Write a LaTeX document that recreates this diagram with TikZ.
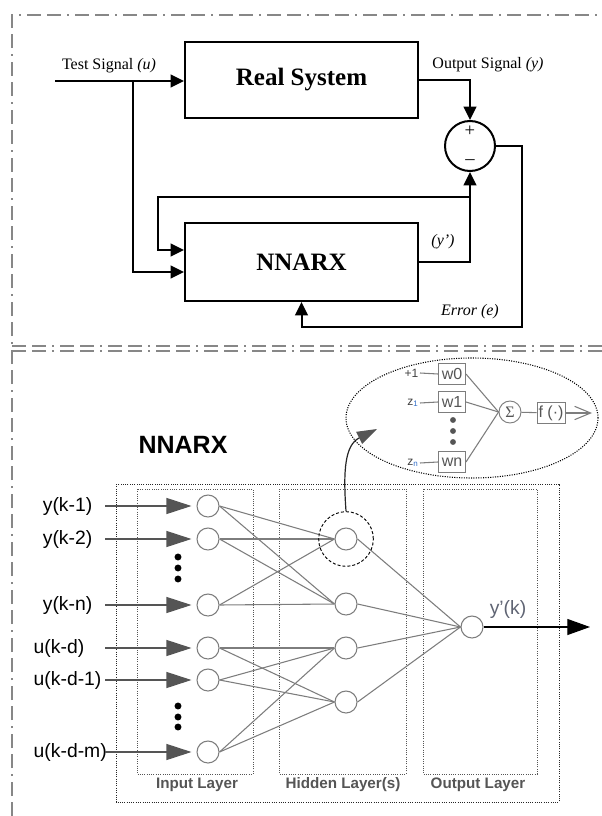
\documentclass[tikz,border=0pt]{standalone}
\usepackage{fontspec}
\setmainfont{Liberation Serif}
\newfontfamily\netfont{Liberation Sans}
\usetikzlibrary{arrows.meta,calc}
\definecolor{framegray}{RGB}{135,135,135}
\definecolor{edgegray}{RGB}{125,125,125}
\definecolor{labgray}{RGB}{85,85,85}
\definecolor{ykgray}{RGB}{95,100,115}
\definecolor{subblue}{RGB}{50,110,200}
\tikzset{
  frameline/.style={draw=framegray,line width=1.1pt,
    dash pattern=on 10.5pt off 4.5pt on 10.5pt off 4.5pt on 1.5pt off 4.5pt},
  sysbox/.style={draw,line width=1.5pt,minimum width=174.75pt,minimum height=57pt,
    font=\fontsize{18.75}{22}\selectfont\bfseries},
  sig/.style={line width=1.5pt,-{Triangle[length=10pt,width=9.5pt]}},
  sumnode/.style={circle,draw,line width=1.5pt,minimum size=37.5pt,inner sep=0pt},
  toplab/.style={font=\fontsize{12}{14}\selectfont},
  neuron/.style={circle,draw=edgegray,fill=white,line width=0.8pt,minimum size=16.5pt,inner sep=0pt},
  wire/.style={draw=edgegray,line width=0.8pt},
  inarr/.style={draw=labgray,line width=0.8pt,-{Triangle[length=18.75pt,width=12pt,color=labgray]},shorten >=3.75pt},
  inlab/.style={font=\netfont\fontsize{14.5}{16}\selectfont},
  laybox/.style={draw=labgray,densely dotted,line width=0.7pt},
  laylab/.style={font=\netfont\bfseries\fontsize{11.4}{13}\selectfont,text=labgray},
  wbox/.style={draw=edgegray,line width=0.7pt,minimum width=20.25pt,minimum height=15.75pt,inner sep=1pt,
    text=labgray,font=\netfont\fontsize{12}{13}\selectfont},
  zlab/.style={font=\netfont\fontsize{9}{10}\selectfont,text=black!75,inner sep=1pt}
}
\begin{document}
\begin{tikzpicture}[x=0.75pt,y=-0.75pt]
  \useasboundingbox (0,0) rectangle (602,816);
  % frame
  \draw[frameline] (12,816) -- (12,15) -- (602,15);
  \draw[frameline] (12,346) -- (602,346);
  \draw[frameline] (12,351) -- (602,351);

  % system identification loop
  \node[sysbox] (rs) at (301.5,80) {Real System};
  \node[sysbox,minimum height=58.5pt] (nn) at (301.5,262) {NNARX};
  \node[sumnode] (cmp) at (470,146) {};
  \node[font=\fontsize{14}{14}\selectfont] (pl) at (470,131) {+};
  \node[font=\fontsize{14}{14}\selectfont] (mi) at (470,162) {–};

  \coordinate (tin) at (55,81);
  \coordinate (tbr) at (133,81);
  \coordinate (fb) at (470,197);
  \coordinate (fbl) at (158,197);
  \coordinate (er) at (522,327);

  \draw[sig] (tin) -- (tin -| rs.west);
  \draw[sig] (tbr) |- ([yshift=-7.5pt]nn.west);
  \draw[sig] (fb) -- (fbl) |- ([yshift=9pt]nn.west);
  \draw[sig] (rs.east) -| (cmp.north);
  \draw[sig] (nn.east) -| (cmp.south);
  \draw[sig] (cmp.east) -| (er) -| (nn.south);

  \node[toplab] (tsl) at (109,66) {Test Signal \textit{(u)}};
  \node[toplab] (osl) at (488,65) {Output Signal \textit{(y)}};
  \node[toplab] (ypl) at (443,242) {\textit{(y’)}};
  \node[toplab] (erl) at (470,312) {\textit{Error (e)}};

  % network
  \node[font=\netfont\bfseries\fontsize{18.75}{22}\selectfont] (ttl) at (183,445) {NNARX};
  \draw[laybox,draw=black!85] (116,484) rectangle (559,802);
  \draw[laybox] (137,489) rectangle (253,774);
  \draw[laybox] (279,489) rectangle (406,774);
  \draw[laybox] (423,489) rectangle (537,774);
  \node[laylab] (inl) at (197,785) {Input Layer};
  \node[laylab] (hdl) at (343,785) {Hidden Layer(s)};
  \node[laylab] (oul) at (478,785) {Output Layer};

  \foreach \n/\y/\lab in {1/506/y(k-1),2/539/y(k-2),3/605/y(k-n)}{
    \node[neuron] (i\n) at (208,\y) {};
    \node[inlab,anchor=east] (l\n) at (97,\y) {\lab};
    \coordinate (s\n) at (105,\y);
    \draw[inarr] (s\n) -- (i\n);
  }
  \foreach \n/\y/\lab in {4/648/u(k-d),5/680/u(k-d-1),6/752/u(k-d-m)}{
    \node[neuron] (i\n) at (208,\y) {};
    \node[inlab,anchor=west] (l\n) at (29,\y) {\lab};
    \coordinate (s\n) at (105,\y);
    \draw[inarr] (s\n) -- (i\n);
  }
  \foreach \y in {557,568,579,706,717,727}
    \fill (178,\y) circle (2.6pt);

  \foreach \n/\y in {1/539,2/604,3/648,4/702}
    \node[neuron] (h\n) at (346,\y) {};
  \node[neuron] (o) at (472,627) {};

  \foreach \a/\b in {1/1,1/2,2/1,2/2,3/1,3/2,4/3,4/4,5/3,5/4,6/3,6/4}
    \draw[wire] (i\a.east) -- (h\b.west);
  \foreach \b in {1,...,4}
    \draw[wire] (h\b.east) -- (o.west);

  \coordinate (yo) at (590,627);
  \draw[line width=0.8pt,-{Triangle[length=17pt,width=12pt]}] (o) -- (yo);
  \node[inlab,text=ykgray] (ylab) at (508,609) {y’(k)};

  % zoom on one hidden neuron
  \node[circle,draw,dash pattern=on 2.25pt off 1.5pt,line width=0.7pt,minimum size=41pt] (hc) at (h1) {};
  \coordinate (tip) at (377,429);
  \draw[line width=0.9pt,draw=black!85,-{Triangle[length=15pt,width=10pt,color=labgray]}]
    (hc.north) .. controls (343,470) and (345,445) .. (tip);
  \draw[densely dotted,line width=0.8pt] (472,418) ellipse [x radius=94.5pt,y radius=45pt];

  \node[wbox] (w0) at (452,374) {w0};
  \node[wbox] (w1) at (452,402) {w1};
  \node[wbox] (wn) at (452,462) {wn};
  \node[zlab,anchor=east] (z0) at (420,373) {+1};
  \node[zlab,anchor=east] (z1) at (420,403) {z\textsubscript{\color{subblue}1}};
  \node[zlab,anchor=east] (zn) at (420,463) {z\textsubscript{\color{subblue}n}};
  \foreach \w in {0,1,n}
    \draw[wire] (z\w.east) -- (w\w.west);
  \foreach \y in {420,431,442}
    \fill[labgray] (453,\y) circle (2.2pt);

  \node[circle,draw=edgegray,line width=0.7pt,minimum size=16.5pt,inner sep=0pt,text=labgray,
    font=\fontsize{12}{13}\selectfont] (sg) at (510,412) {Σ};
  \foreach \w in {0,1,n}
    \draw[wire] (w\w.east) -- (sg.west);
  \node[wbox,minimum width=21pt] (fx) at (551,413) {f (·)};
  \draw[wire] (sg) -- (fx);
  \coordinate (fo) at (592,413);
  \draw[wire,-{Straight Barb[length=12pt,width=10pt]}] (fx) -- (fo);
\end{tikzpicture}
\end{document}
